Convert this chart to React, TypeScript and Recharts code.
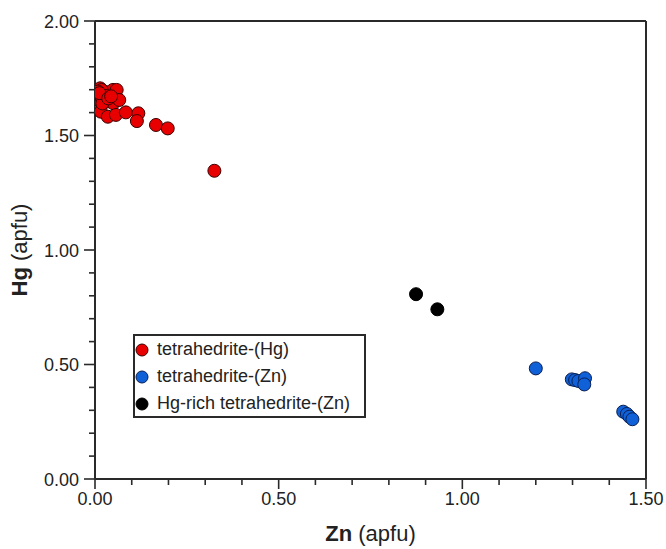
import React from 'react';
import { ScatterChart, Scatter, XAxis, YAxis, ReferenceLine, Label } from 'recharts';

// tetrahedrite-(Hg)
const hgTypeZn = [0.005, 0.009, 0.011, 0.014, 0.018, 0.022, 0.027, 0.032, 0.04, 0.049, 0.05, 0.018, 0.059, 0.066, 0.016, 0.035, 0.057, 0.084, 0.118, 0.114, 0.166, 0.198, 0.325, 0.008, 0.025, 0.03, 0.02, 0.012, 0.036, 0.044];
const hgTypeHg = [1.677, 1.626, 1.655, 1.706, 1.664, 1.68, 1.691, 1.648, 1.68, 1.699, 1.641, 1.699, 1.699, 1.655, 1.604, 1.582, 1.59, 1.601, 1.597, 1.563, 1.546, 1.531, 1.346, 1.692, 1.665, 1.672, 1.64, 1.685, 1.662, 1.671];

// tetrahedrite-(Zn)
const znTypeZn = [1.2, 1.298, 1.307, 1.316, 1.334, 1.332, 1.438, 1.448, 1.455, 1.463];
const znTypeHg = [0.483, 0.435, 0.432, 0.428, 0.44, 0.413, 0.294, 0.284, 0.272, 0.261];

// Hg-rich tetrahedrite-(Zn)
const hgRichZn = [0.874, 0.932];
const hgRichHg = [0.807, 0.741];

const xTicks = [0, 0.1, 0.2, 0.3, 0.4, 0.5, 0.6, 0.7, 0.8, 0.9, 1.0, 1.1, 1.2, 1.3, 1.4, 1.5];
const yTicks = [0, 0.1, 0.2, 0.3, 0.4, 0.5, 0.6, 0.7, 0.8, 0.9, 1.0, 1.1, 1.2, 1.3, 1.4, 1.5, 1.6, 1.7, 1.8, 1.9, 2.0];

const seriesNames = ['tetrahedrite-(Hg)', 'tetrahedrite-(Zn)', 'Hg-rich tetrahedrite-(Zn)'];
const fills = ['#e80000', '#1060d8', '#000000'];
const strokes = ['#3a0000', '#0a1f50', '#000000'];

const toPoints = (xs: number[], ys: number[]) => xs.map((x, i) => ({ x, y: ys[i] }));
const hgData = toPoints(hgTypeZn, hgTypeHg);
const znData = toPoints(znTypeZn, znTypeHg);
const richData = toPoints(hgRichZn, hgRichHg);

const FONT = '"Liberation Sans", Arial, Helvetica, sans-serif';
const AXIS = '#2a2a2a';

const isMajor = (v: number) => Math.abs(v * 2 - Math.round(v * 2)) < 1e-6;

const XTick = (props: any) => {
  const { x, y, payload } = props;
  const v = payload.value;
  const major = isMajor(v);
  return (
    <g>
      <line x1={x} y1={y} x2={x} y2={y + (major ? 10 : 6)} stroke={AXIS} strokeWidth={1.6} />
      {major && (
        <text x={x} y={y + 26} textAnchor="middle" fontSize={18} fontFamily={FONT} fill="#222">
          {v.toFixed(2)}
        </text>
      )}
    </g>
  );
};

const YTick = (props: any) => {
  const { x, y, payload } = props;
  const v = payload.value;
  const major = isMajor(v);
  return (
    <g>
      <line x1={x} y1={y} x2={x - (major ? 11 : 6)} y2={y} stroke={AXIS} strokeWidth={1.6} />
      {major && (
        <text x={x - 16} y={y + 6.5} textAnchor="end" fontSize={18} fontFamily={FONT} fill="#222">
          {v.toFixed(2)}
        </text>
      )}
    </g>
  );
};

const makeShape = (i: number) => (props: any) => (
  <circle cx={props.cx} cy={props.cy} r={6.5} fill={fills[i]} stroke={strokes[i]} strokeWidth={1} />
);

const XTitle = (props: any) => {
  const vb = props.viewBox;
  return (
    <text x={vb.x + vb.width / 2} y={549 - 8} textAnchor="middle" fontSize={22} fontFamily={FONT} fill="#222">
      <tspan fontWeight="bold">Zn</tspan>
      <tspan> (apfu)</tspan>
    </text>
  );
};

const YTitle = (props: any) => {
  const vb = props.viewBox;
  const cy = vb.y + vb.height / 2;
  const cx = 27;
  return (
    <text x={cx} y={cy} textAnchor="middle" fontSize={22} fontFamily={FONT} fill="#222" transform={`rotate(-90, ${cx}, ${cy})`}>
      <tspan fontWeight="bold">Hg</tspan>
      <tspan> (apfu)</tspan>
    </text>
  );
};

export default function App() {
  return (
    <div style={{ position: 'absolute', left: 0, top: 0, width: 666, height: 549, background: '#fff' }}>
      <ScatterChart width={666} height={549} margin={{ top: 21, right: 20, left: 0, bottom: 0 }}>
        <XAxis
          type="number"
          dataKey="x"
          domain={[0, 1.5]}
          ticks={xTicks}
          interval={0}
          tick={<XTick />}
          tickLine={false}
          tickSize={0}
          tickMargin={0}
          height={70}
          axisLine={{ stroke: AXIS, strokeWidth: 2 }}
          allowDataOverflow
        >
          <Label content={<XTitle />} />
        </XAxis>
        <YAxis
          type="number"
          dataKey="y"
          domain={[0, 2]}
          ticks={yTicks}
          interval={0}
          tick={<YTick />}
          tickLine={false}
          tickSize={0}
          tickMargin={0}
          width={95}
          axisLine={{ stroke: AXIS, strokeWidth: 2 }}
          allowDataOverflow
        >
          <Label content={<YTitle />} />
        </YAxis>
        <ReferenceLine y={2} stroke={AXIS} strokeWidth={2} />
        <ReferenceLine x={1.5} stroke={AXIS} strokeWidth={2} />
        <Scatter name={seriesNames[0]} data={hgData} shape={makeShape(0)} isAnimationActive={false} />
        <Scatter name={seriesNames[1]} data={znData} shape={makeShape(1)} isAnimationActive={false} />
        <Scatter name={seriesNames[2]} data={richData} shape={makeShape(2)} isAnimationActive={false} />
      </ScatterChart>
      <div
        style={{
          position: 'absolute',
          left: 133,
          top: 334,
          width: 233,
          height: 84,
          boxSizing: 'border-box',
          border: `2px solid ${AXIS}`,
          background: '#fff',
          fontFamily: FONT,
          fontSize: 18,
          color: '#222',
        }}
      >
        {seriesNames.map((n, i) => (
          <div key={n} style={{ height: 27, display: 'flex', alignItems: 'center', whiteSpace: 'nowrap' }}>
            <svg width={20} height={16} style={{ flex: 'none' }}>
              <circle cx={7} cy={8} r={6} fill={fills[i]} stroke={strokes[i]} strokeWidth={1} />
            </svg>
            <span style={{ marginLeft: 2 }}>{n}</span>
          </div>
        ))}
      </div>
    </div>
  );
}
